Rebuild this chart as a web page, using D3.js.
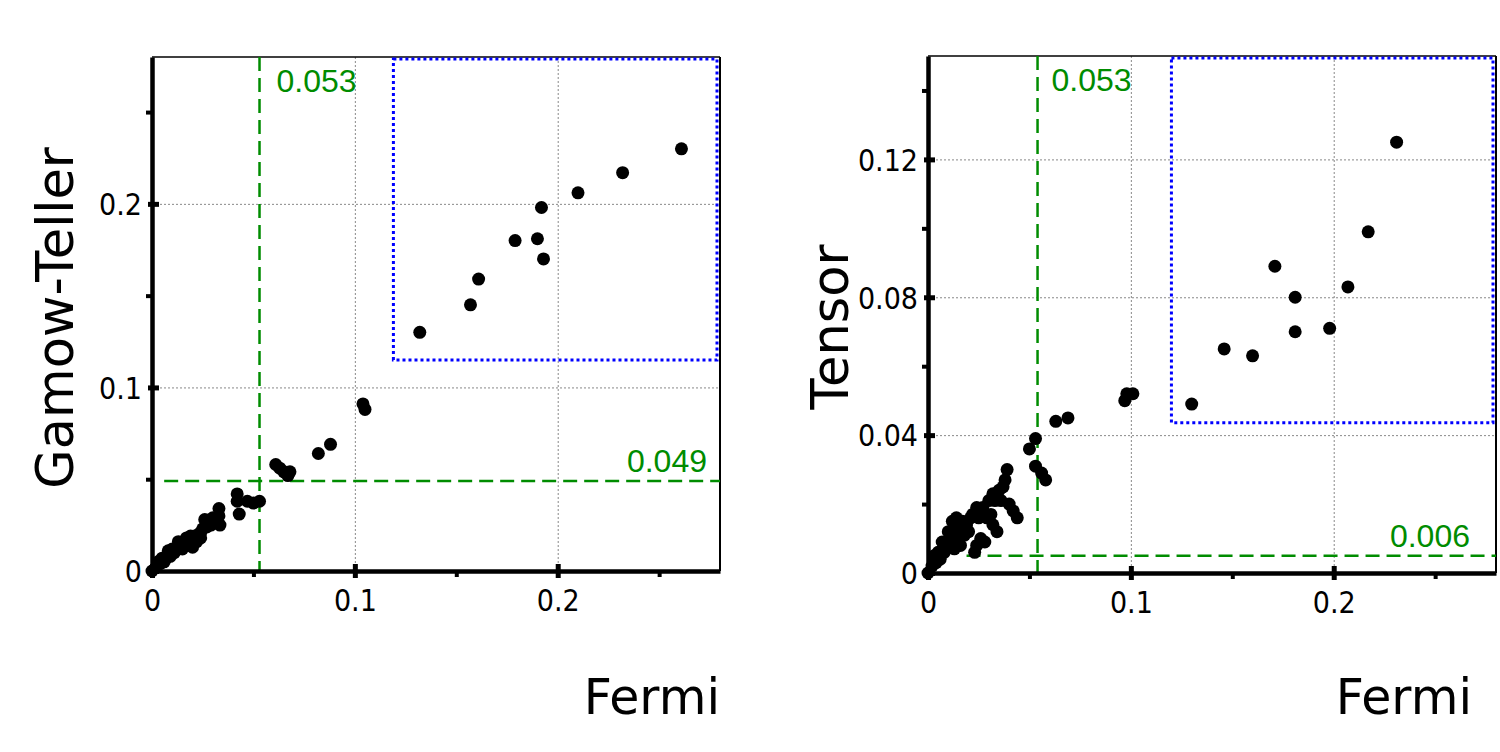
<!DOCTYPE html>
<html lang="en">
<head>
<meta charset="UTF-8">
<title>Fermi vs Gamow-Teller / Tensor</title>
<script src="https://d3js.org/d3.v7.min.js"></script>
<style>
  body { margin: 0; background: #fff; }
  .tick text { font-family: "DejaVu Sans Condensed", "DejaVu Sans", sans-serif; font-stretch: condensed; font-size: 30px; fill: #000; }
  .title { font-family: "DejaVu Sans", sans-serif; font-size: 49px; fill: #000; }
  .ytitle { font-size: 51px; }
  .cut-label { font-family: "Liberation Sans", Arial, sans-serif; font-size: 32px; fill: #008c00; }
  .grid line { stroke: #888; stroke-width: 1; stroke-dasharray: 2,2; }
  .grid path { display: none; }
</style>
</head>
<body>
<script>

// ================== DATA ==================
var xTicks = [0, 0.1, 0.2];
var xMinor = [0.05, 0.15, 0.25];

// Gamow-Teller vs Fermi
var gtFermi = [0.000, 0.002, 0.003, 0.004, 0.005, 0.006, 0.007, 0.008, 0.009, 0.010, 0.011, 0.012,
               0.013, 0.014, 0.015, 0.016, 0.017, 0.018, 0.019, 0.019, 0.020, 0.021, 0.022, 0.023,
               0.024, 0.024, 0.025, 0.027, 0.026, 0.028, 0.029, 0.030, 0.032, 0.033, 0.033, 0.0335,
               0.042, 0.042, 0.043, 0.047, 0.050, 0.053,
               0.061, 0.063, 0.065, 0.067, 0.068, 0.082, 0.088, 0.104, 0.105,
               0.132, 0.157, 0.161, 0.179, 0.190, 0.193, 0.192, 0.210, 0.232, 0.261];
var gtValues = [0.000, 0.002, 0.005, 0.004, 0.007, 0.005, 0.007, 0.011, 0.008, 0.012, 0.010, 0.012,
                0.016, 0.013, 0.012, 0.015, 0.018, 0.014, 0.017, 0.019, 0.013, 0.019, 0.016, 0.020,
                0.021, 0.018, 0.023, 0.024, 0.028, 0.027, 0.025, 0.029, 0.027, 0.030, 0.034, 0.025,
                0.042, 0.038, 0.031, 0.038, 0.037, 0.038,
                0.058, 0.056, 0.054, 0.052, 0.054, 0.064, 0.069, 0.091, 0.088,
                0.130, 0.145, 0.159, 0.180, 0.181, 0.170, 0.198, 0.206, 0.217, 0.230];
var gtYTicks = [0, 0.1, 0.2];
var gtYMinor = [0.05, 0.15, 0.25];

// Tensor vs Fermi
var tFermi = [0.000, 0.002, 0.003, 0.004, 0.005, 0.006, 0.007, 0.008, 0.009, 0.010, 0.011, 0.012,
              0.012, 0.013, 0.013, 0.014, 0.014, 0.015, 0.016, 0.016, 0.017, 0.018, 0.019, 0.020,
              0.021, 0.022, 0.024, 0.023, 0.024, 0.025, 0.026, 0.027, 0.028, 0.029, 0.030, 0.031,
              0.032, 0.032, 0.033, 0.034, 0.035, 0.036, 0.037, 0.038, 0.039, 0.040, 0.042, 0.044,
              0.050, 0.053, 0.053, 0.056, 0.058, 0.063, 0.069, 0.097, 0.098, 0.101,
              0.130, 0.146, 0.160, 0.171, 0.181, 0.181, 0.198, 0.207, 0.217, 0.231];
var tValues = [0.000, 0.002, 0.005, 0.003, 0.006, 0.004, 0.009, 0.006, 0.008, 0.012, 0.008, 0.010,
               0.015, 0.011, 0.007, 0.012, 0.016, 0.009, 0.013, 0.008, 0.015, 0.011, 0.014, 0.012,
               0.016, 0.017, 0.019, 0.006, 0.008, 0.016, 0.010, 0.019, 0.009, 0.016, 0.021, 0.017,
               0.023, 0.014, 0.021, 0.012, 0.024, 0.021, 0.025, 0.027, 0.030, 0.020, 0.018, 0.016,
               0.036, 0.039, 0.031, 0.029, 0.027, 0.044, 0.045, 0.050, 0.052, 0.052,
               0.049, 0.065, 0.063, 0.089, 0.080, 0.070, 0.071, 0.083, 0.099, 0.125];
var tYTicks = [0, 0.04, 0.08, 0.12];
var tYMinor = [0.02, 0.06, 0.10, 0.14];

// cut lines (value, label) and the start of the horizontal cut
var gtCuts = { x: 0.053, xLabel: "0.053", y: 0.049, yLabel: "0.049", yFrom: 0.006 };
var tCuts  = { x: 0.054, xLabel: "0.053", y: 0.005, yLabel: "0.006", yFrom: 0.019 };

// blue inset boxes (lower-left corner, up to the frame edge)
var gtBox = [0.119, 0.115];
var tBox  = [0.120, 0.0436];

// ================== SVG ==================
var svg = d3.select("body").append("svg")
    .attr("width", 1500)
    .attr("height", 752);

function drawPanel(p) {
    var g = svg.append("g").attr("transform", "translate(" + p.left + "," + p.top + ")");
    var width = p.width, height = p.height;

    var x = d3.scaleLinear().domain([0, 0.28]).range([0, width]);
    var y = d3.scaleLinear().domain([0, p.yMax]).range([height, 0]);

    // gridlines
    g.append("g").classed("grid", true)
        .call(d3.axisBottom(x).tickValues(xTicks.slice(1)).tickSize(height).tickFormat(""));
    g.append("g").classed("grid", true)
        .call(d3.axisLeft(y).tickValues(p.yTicks.slice(1)).tickSize(-width).tickFormat(""));

    // thin frame top and right
    g.append("line").attr("x1", 0).attr("x2", width).attr("y1", 0).attr("y2", 0)
        .attr("stroke", "#000").attr("stroke-width", 1.5);
    g.append("line").attr("x1", width).attr("x2", width).attr("y1", 0).attr("y2", height)
        .attr("stroke", "#000").attr("stroke-width", 2);

    // blue inset box
    g.append("rect")
        .attr("x", x(p.box[0]))
        .attr("y", 2)
        .attr("width", width - 3 - x(p.box[0]))
        .attr("height", y(p.box[1]) - 2)
        .attr("fill", "none")
        .attr("stroke", "#0000ff")
        .attr("stroke-width", 3)
        .attr("stroke-dasharray", "3,3");

    // green cuts
    g.append("line")
        .attr("x1", x(p.cuts.x)).attr("x2", x(p.cuts.x))
        .attr("y1", 0).attr("y2", height)
        .attr("stroke", "#008c00").attr("stroke-width", 2.5).attr("stroke-dasharray", "14,7");
    g.append("line")
        .attr("x1", x(p.cuts.yFrom)).attr("x2", width)
        .attr("y1", y(p.cuts.y)).attr("y2", y(p.cuts.y))
        .attr("stroke", "#008c00").attr("stroke-width", 2.5).attr("stroke-dasharray", "14,7");
    g.append("text").classed("cut-label", true)
        .attr("x", x(p.cuts.x) + p.xLabelGap)
        .attr("y", 35)
        .text(p.cuts.xLabel);
    g.append("text").classed("cut-label", true)
        .attr("text-anchor", "end")
        .attr("x", width - p.yLabelGap)
        .attr("y", y(p.cuts.y) - 9)
        .text(p.cuts.yLabel);

    // points
    var pts = p.xs.map(function(d, i) { return { x: d, y: p.ys[i] }; });
    g.selectAll(".pt")
        .data(pts)
        .enter()
        .append("circle")
        .classed("pt", true)
        .attr("cx", function(d) { return x(d.x); })
        .attr("cy", function(d) { return y(d.y); })
        .attr("r", 6.5)
        .attr("fill", "#000");

    // minor ticks
    var xm = g.append("g").attr("transform", "translate(0," + height + ")")
        .call(d3.axisBottom(x).tickValues(xMinor).tickSize(6).tickFormat(""));
    xm.select(".domain").remove();
    xm.selectAll(".tick line").attr("stroke-width", 4);
    var ym = g.append("g")
        .call(d3.axisLeft(y).tickValues(p.yMinor).tickSize(6).tickFormat(""));
    ym.select(".domain").remove();
    ym.selectAll(".tick line").attr("stroke-width", 4);

    // major axes
    var xa = g.append("g").attr("transform", "translate(0," + height + ")")
        .call(d3.axisBottom(x).tickValues(xTicks).tickSizeInner(7).tickSizeOuter(0).tickPadding(10)
            .tickFormat(function(d) { return d === 0 ? "0" : d3.format(".1f")(d); }));
    xa.select(".domain").attr("stroke-width", 4.5);
    xa.selectAll(".tick line").attr("y1", -7).attr("stroke-width", 5);
    xa.selectAll(".tick text").attr("dy", "0.75em");

    var ya = g.append("g")
        .call(d3.axisLeft(y).tickValues(p.yTicks).tickSizeInner(4).tickSizeOuter(0).tickPadding(6)
            .tickFormat(function(d) { return d === 0 ? "0" : p.fmt(d); }));
    ya.select(".domain").attr("stroke-width", 4.5);
    ya.selectAll(".tick line").attr("x1", 7).attr("stroke-width", 5);
    ya.selectAll(".tick text").attr("dy", "0.36em");

    // titles
    g.append("text").classed("title", true)
        .attr("text-anchor", "end")
        .attr("x", p.fermiRight)
        .attr("y", 714 - p.top)
        .text("Fermi");
    g.append("text").classed("title ytitle", true)
        .attr("text-anchor", "middle")
        .attr("transform", "translate(" + p.yTitleX + "," + p.yTitleY + ") rotate(-90)")
        .text(p.yTitle);
}

drawPanel({
    left: 152, top: 57, width: 568, height: 514,
    yMax: 0.28, yTicks: gtYTicks, yMinor: gtYMinor,
    fmt: d3.format(".1f"),
    xs: gtFermi, ys: gtValues,
    cuts: gtCuts, box: gtBox,
    xLabelGap: 17, yLabelGap: 13,
    fermiRight: 568, yTitle: "Gamow-Teller", yTitleX: -79, yTitleY: 261
});

drawPanel({
    left: 928, top: 56, width: 568, height: 517,
    yMax: 0.15, yTicks: tYTicks, yMinor: tYMinor,
    fmt: d3.format(".2f"),
    xs: tFermi, ys: tValues,
    cuts: tCuts, box: tBox,
    xLabelGap: 14, yLabelGap: 26,
    fermiRight: 544, yTitle: "Tensor", yTitleX: -80, yTitleY: 271
});

</script>
</body>
</html>
